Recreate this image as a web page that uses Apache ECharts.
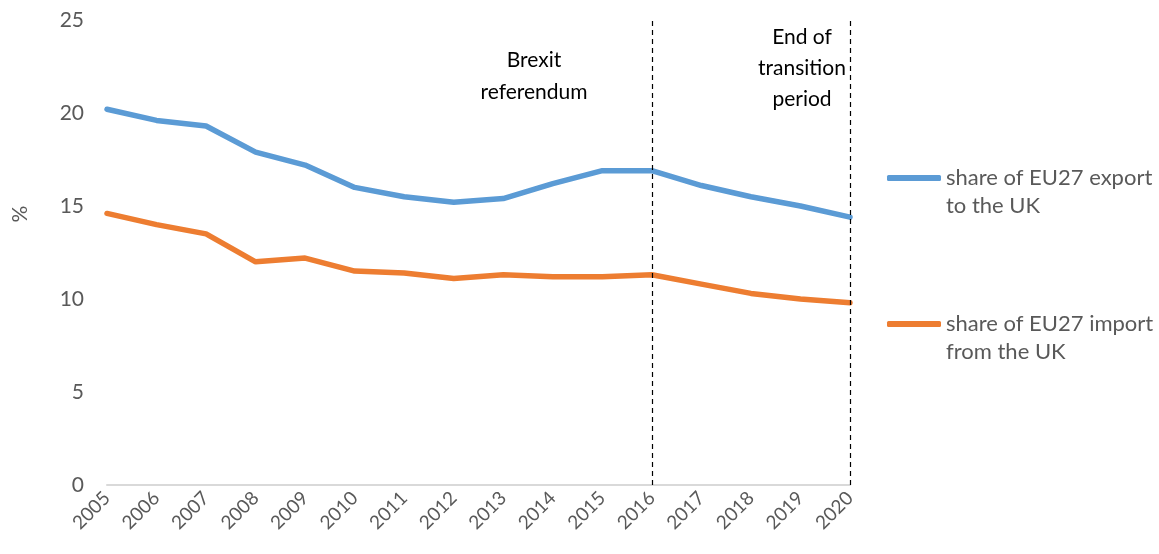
<!DOCTYPE html>
<html>
<head>
<meta charset="utf-8">
<script src="https://cdn.jsdelivr.net/npm/echarts@6/dist/echarts.min.js"></script>
<style>
  html, body { margin: 0; padding: 0; background: #fff; }
  #chart { width: 1159px; height: 554px; }
</style>
</head>
<body>
<div id="chart"></div>
<script>
// 数据
const years = ['2005', '2006', '2007', '2008', '2009', '2010', '2011', '2012',
  '2013', '2014', '2015', '2016', '2017', '2018', '2019', '2020'];
const exportShare = [20.2, 19.6, 19.3, 17.9, 17.2, 16.0, 15.5, 15.2,
  15.4, 16.2, 16.9, 16.9, 16.1, 15.5, 15.0, 14.4];
const importShare = [14.6, 14.0, 13.5, 12.0, 12.2, 11.5, 11.4, 11.1,
  11.3, 11.2, 11.2, 11.3, 10.8, 10.3, 10.0, 9.8];
const eventYears = ['2016', '2020'];

const font = 'Lato, "Open Sans", sans-serif';
const grey = '#595959';

const chart = echarts.init(document.getElementById('chart'), null, { renderer: 'canvas' });

chart.setOption({
  animation: false,
  textStyle: { fontFamily: font },
  grid: { left: 107, right: 309, top: 20, bottom: 69, containLabel: false },
  legend: {
    orient: 'vertical',
    left: 882,
    top: 131,
    padding: 5,
    itemWidth: 54,
    itemHeight: 6,
    itemGap: 62,
    textGap: 5,
    icon: 'roundRect',
    textStyle: { color: grey, fontSize: 22, fontFamily: font, lineHeight: 28 },
    formatter: (name) => '\n' + name
  },
  xAxis: {
    type: 'category',
    data: years,
    boundaryGap: false,
    axisLine: { lineStyle: { color: '#d9d9d9', width: 2 } },
    axisTick: { show: false },
    axisLabel: { color: grey, fontSize: 19, rotate: 45, margin: 10, interval: 0 }
  },
  yAxis: {
    type: 'value',
    min: 0,
    max: 25,
    interval: 5,
    axisLine: { show: false },
    axisTick: { show: false },
    splitLine: { show: false },
    axisLabel: { color: grey, fontSize: 21, margin: 23 }
  },
  series: [
    {
      name: 'share of EU27 export\nto the UK',
      type: 'line',
      data: exportShare,
      showSymbol: false,
      color: '#5B9BD5',
      lineStyle: { width: 5.5, cap: 'round' },
      markLine: {
        silent: true,
        symbol: 'none',
        label: { show: false },
        lineStyle: { color: '#000', type: [5, 4], width: 1.2 },
        data: eventYears.map((y) => ({ xAxis: y }))
      }
    },
    {
      name: 'share of EU27 import\nfrom the UK',
      type: 'line',
      data: importShare,
      showSymbol: false,
      color: '#ED7D31',
      lineStyle: { width: 5.5, cap: 'round' }
    }
  ],
  graphic: [
    {
      // y 轴单位
      type: 'text',
      x: 20,
      y: 214,
      rotation: Math.PI / 2,
      style: {
        text: '%',
        align: 'center',
        verticalAlign: 'middle',
        fill: grey,
        font: '21px ' + font
      }
    },
    {
      type: 'text',
      x: 534,
      y: 44,
      style: {
        text: 'Brexit\nreferendum',
        align: 'center',
        fill: '#000',
        font: '21px ' + font,
        lineHeight: 32
      }
    },
    {
      type: 'text',
      x: 802,
      y: 22,
      style: {
        text: 'End of\ntransition\nperiod',
        align: 'center',
        fill: '#000',
        font: '21px ' + font,
        lineHeight: 31
      }
    }
  ]
});
</script>
</body>
</html>
